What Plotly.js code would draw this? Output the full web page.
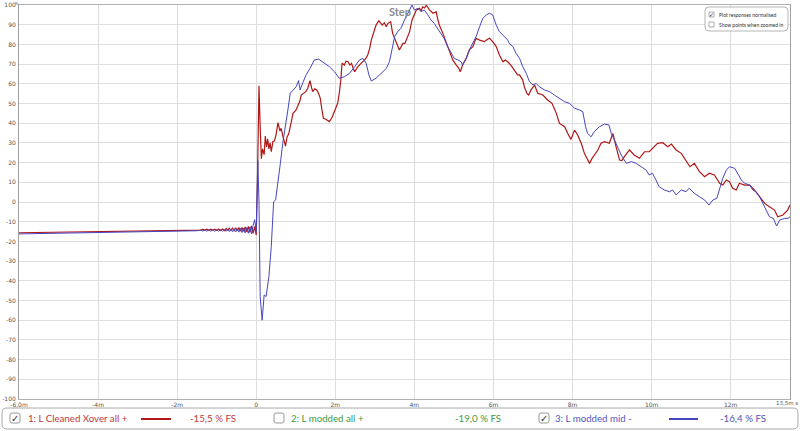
<!DOCTYPE html>
<html><head><meta charset="utf-8">
<script src="https://cdn.plot.ly/plotly-3.0.1.min.js"></script>
<style>body{margin:0;background:#fff}#c{width:800px;height:431px}</style>
</head><body><div id="c"></div>
<script>
// ---- data (time in ms, value in %) ----
const timeRed = [-6,-5,-4,-3,-2,-1.5,-1.4,-1.35,-1.3,-1.25,-1.2,-1.15,-1.1,-1.05,-1,-0.95,-0.9,-0.85,-0.8,-0.76,-0.72,-0.68,-0.64,-0.6,-0.56,-0.52,-0.48,-0.44,-0.4,-0.36,-0.32,-0.28,-0.24,-0.2,-0.16,-0.12,-0.08,-0.04,0,0.03,0.07,0.1,0.13,0.16,0.2,0.23,0.26,0.29,0.32,0.35,0.38,0.42,0.46,0.5,0.55,0.6,0.63,0.68,0.74,0.78,0.82,0.88,0.93,1,1.05,1.1,1.14,1.2,1.25,1.3,1.36,1.4,1.43,1.48,1.53,1.58,1.62,1.66,1.7,1.76,1.85,1.92,2,2.06,2.1,2.14,2.17,2.23,2.27,2.32,2.37,2.41,2.45,2.49,2.57,2.64,2.7,2.76,2.82,2.87,2.91,2.97,3.03,3.1,3.15,3.19,3.24,3.29,3.33,3.4,3.45,3.54,3.58,3.62,3.67,3.71,3.76,3.79,3.84,3.88,3.94,4,4.05,4.13,4.17,4.21,4.26,4.3,4.34,4.38,4.47,4.55,4.59,4.63,4.72,4.8,4.89,4.97,5.06,5.12,5.16,5.22,5.31,5.39,5.48,5.56,5.65,5.72,5.77,5.84,5.9,5.98,6.07,6.15,6.24,6.3,6.36,6.44,6.53,6.61,6.66,6.74,6.78,6.85,6.89,6.95,7.04,7.12,7.25,7.37,7.48,7.59,7.67,7.8,7.88,7.96,8.05,8.13,8.22,8.3,8.37,8.43,8.49,8.55,8.64,8.72,8.81,8.93,9.02,9.1,9.19,9.25,9.31,9.44,9.56,9.69,9.82,9.94,10.02,10.15,10.28,10.41,10.5,10.62,10.75,10.87,10.97,11.08,11.21,11.34,11.46,11.59,11.72,11.8,11.89,11.97,12.05,12.14,12.22,12.35,12.48,12.6,12.73,12.86,12.98,13.11,13.19,13.32,13.44,13.5];
const valRed = [-15.6,-15.3,-15.0,-14.7,-14.4,-14.2,-14.3,-13.9,-14.3,-13.85,-14.35,-13.85,-14.4,-13.8,-14.4,-13.75,-14.45,-13.7,-14.5,-13.4,-14.3,-13.3,-14.4,-13.2,-14.5,-13.1,-14.6,-13.0,-14.7,-12.9,-14.9,-12.7,-15.1,-12.4,-15.4,-12.1,-15.9,-12.5,-16.8,10,59,38,22,27,24,33.5,28,32,27,30,25.5,30.6,31,34,40.3,36,37.4,33,28.4,33,34.5,40,45,46.5,48.4,51,54.3,55,56,57.5,61.6,58,56,57.5,56.9,55,52.6,47,42.5,42,40.8,43,46.7,50.1,55.2,62,70.4,69.5,71.5,71.2,69.5,70.4,68,66.1,68.7,70,71.2,72.5,74.6,78,82.2,86,89.8,92,90.5,89.8,91,89,90.7,91.5,85.6,81.4,79,77.2,79,80.5,80.5,82.2,84,86.5,92.4,95,97.5,98.3,97,99.1,98.5,100,98.8,97.5,95.8,96.6,93,89.8,85.6,81.4,77.2,72.1,69.5,68,66.1,69.5,72.9,77.2,78.9,83.1,82.2,81.5,81.4,82.5,83.1,81.4,78.9,74.6,71.2,72.1,71.2,69.5,67,64.5,64.5,61.9,58.5,55,54.3,56.9,59.4,55.2,54.3,51.8,50.1,45,39.9,38.2,34.8,31.8,36.5,34,29.8,24.7,22,19.6,22,23.9,26.4,29.8,30.6,29.8,34.8,28.1,21.3,21,23,26.4,23.9,22.2,25.5,25.5,27.2,29.8,30.1,28.1,29.4,26.4,24.7,21.3,17.9,19.6,15.4,12.8,14.6,13.7,9.5,8.6,11.2,10.3,7,6.1,9.5,8.6,8.6,6.1,2.7,-0.7,-2.4,-4.1,-7.5,-6.6,-4.1,-1.5];

const timeBlue = [-6,-5,-4,-3,-2,-1.5,-1.4,-1.35,-1.3,-1.25,-1.2,-1.15,-1.1,-1.05,-1,-0.95,-0.9,-0.85,-0.8,-0.76,-0.72,-0.68,-0.64,-0.6,-0.56,-0.52,-0.48,-0.44,-0.4,-0.36,-0.32,-0.28,-0.24,-0.2,-0.16,-0.12,-0.08,-0.04,0,0.04,0.07,0.1,0.15,0.2,0.25,0.32,0.38,0.44,0.49,0.55,0.61,0.67,0.74,0.8,0.86,0.94,1.01,1.07,1.11,1.18,1.26,1.36,1.47,1.58,1.68,1.85,1.98,2.1,2.23,2.36,2.49,2.61,2.7,2.78,2.85,2.91,3.03,3.16,3.29,3.37,3.44,3.5,3.58,3.66,3.75,3.83,3.94,4,4.09,4.17,4.25,4.34,4.42,4.5,4.59,4.67,4.75,4.84,4.93,5.01,5.1,5.18,5.22,5.31,5.39,5.48,5.56,5.65,5.73,5.82,5.9,5.98,6.07,6.15,6.24,6.36,6.4,6.49,6.57,6.66,6.74,6.83,6.91,7,7.08,7.16,7.29,7.42,7.54,7.67,7.8,7.92,8.05,8.18,8.26,8.33,8.38,8.47,8.55,8.68,8.81,8.92,8.98,9.06,9.15,9.23,9.36,9.49,9.61,9.74,9.86,9.94,10.02,10.11,10.19,10.32,10.45,10.53,10.62,10.75,10.87,10.95,11.08,11.21,11.34,11.45,11.55,11.65,11.72,11.8,11.89,11.97,12.1,12.18,12.27,12.35,12.48,12.56,12.64,12.73,12.81,12.9,12.98,13.08,13.16,13.24,13.37,13.45,13.5];
const valBlue = [-16.2,-15.9,-15.6,-15.2,-14.9,-14.6,-14.25,-14.75,-14.2,-14.8,-14.2,-14.8,-14.15,-14.85,-14.15,-14.85,-14.1,-14.9,-14.05,-14.9,-13.8,-15.0,-13.7,-15.1,-13.6,-15.2,-13.5,-15.3,-13.4,-15.5,-13.2,-15.7,-13.0,-15.9,-12.6,-16.2,-12.0,-9,-15,21,0,-48,-60,-47.2,-48,-37.9,-22.7,0.2,1,9.5,19.6,29.8,38.2,46.7,55.2,56.9,58.5,61.6,56.9,60.6,64.5,67.8,72.1,72.5,71.2,68.7,66.1,62.8,63.6,65.3,68.7,72.1,72.9,70.4,64.5,61.4,62.8,65.3,67.8,71.2,78,83.9,86.5,88.2,92.4,95.8,100,97.5,98.3,96.6,97.5,95,92.4,90.7,88.2,85.6,83.1,78.9,75.5,72.9,72.1,71.2,69.5,72.9,77.2,80.5,83.9,89,93.2,95,95.8,95,89.8,86.5,84.8,82.2,80.5,78.9,75.5,72.9,68.7,65.3,61.1,59.4,60.2,58.5,56.9,56,54.3,52.6,50.9,50.1,47.6,46.7,45.8,38.2,34.8,33.1,35.7,38.2,39.6,39.1,34.8,31.5,27.2,23.9,19.6,20.5,19.6,17.9,16.2,13.7,14.6,11.2,7.8,6.1,5.2,6.1,3.6,6.1,5.2,7,4.4,2.7,1,-1.5,1,1.9,6.1,12,16.2,17.9,17.1,14.6,11.2,9.5,8.6,6.1,5.2,2.7,-0.7,-4.1,-7.5,-8.3,-12.2,-9.1,-8.3,-8.3,-7.5];

const xTickVals = [-6,-4,-2,0,2,4,6,8,10,12];
const xTickText = ['-6,0m','-4m','-2m','0','2m','4m','6m','8m','10m','12m'];
const xEndTick = 13.5, xEndText = '13,5m s';
const yTickVals = [-100,-90,-80,-70,-60,-50,-40,-30,-20,-10,0,10,20,30,40,50,60,70,80,90,100];
const yTickText = yTickVals.map(String);

const legendNames = ['1: L Cleaned Xover all +','2: L modded all +','3: L modded mid -'];
const legendLevels = ['-15,5 % FS','-19,0 % FS','-16,4 % FS'];
const legendChecked = [true,false,true];

// ---- layout helpers (pixel -> paper) ----
const L=19,R=790,T=5,B=399;
const px = x => (x-L)/(R-L);
const py = y => (B-y)/(B-T);
function rrect(x0,y0,x1,y1,r){
  const a=px(x0),b=px(x1),c=py(y0),d=py(y1);
  const rx=r/(R-L), ry=r/(B-T);
  return `M${a+rx},${c} L${b-rx},${c} Q${b},${c} ${b},${c-ry} L${b},${d+ry} Q${b},${d} ${b-rx},${d} L${a+rx},${d} Q${a},${d} ${a},${d+ry} L${a},${c-ry} Q${a},${c} ${a+rx},${c} Z`;
}

const RED='#b01818', BLUE='#4646c0';
const txtCol=['#c0393b','#3f9a3f','#5555b8'];

const shapes=[], ann=[];
shapes.push({type:'path',xref:'paper',yref:'paper',path:rrect(2,408,798,429,5),line:{color:'#a8a8a8',width:1},fillcolor:'rgba(0,0,0,0)',layer:'above'});
const cbX=[10,274,539];
const nameX=[26,289,553];
const lineX=[[141,171],null,[669,698]];
const lvlX=[188,453,718];
for(let i=0;i<3;i++){
  shapes.push({type:'path',xref:'paper',yref:'paper',path:rrect(cbX[i],413,cbX[i]+10,423,2),line:{color:'#999',width:1},fillcolor:'#fff',layer:'above'});
  if(legendChecked[i]) ann.push({xref:'paper',yref:'paper',x:px(cbX[i]+5),y:py(418),text:'✓',showarrow:false,font:{family:'DejaVu Sans',size:10,color:'#333'},xanchor:'center',yanchor:'middle'});
  ann.push({xref:'paper',yref:'paper',x:px(nameX[i]),y:py(418.5),text:legendNames[i],showarrow:false,font:{family:'Lato',size:9.7,color:txtCol[i]},xanchor:'left',yanchor:'middle'});
  ann.push({xref:'paper',yref:'paper',x:px(lvlX[i]),y:py(418.5),text:legendLevels[i],showarrow:false,font:{family:'Lato',size:9.7,color:txtCol[i]},xanchor:'left',yanchor:'middle'});
  if(lineX[i]) shapes.push({type:'line',xref:'paper',yref:'paper',x0:px(lineX[i][0]),x1:px(lineX[i][1]),y0:py(419),y1:py(419),line:{color:i===0?RED:BLUE,width:2},layer:'above'});
}
shapes.push({type:'path',xref:'paper',yref:'paper',path:rrect(705,7,788,31,4),line:{color:'#b5b5b5',width:1},fillcolor:'rgba(255,255,255,0.9)',layer:'above'});
shapes.push({type:'rect',xref:'paper',yref:'paper',x0:px(709),x1:px(714),y0:py(12),y1:py(17),line:{color:'#999',width:0.8},fillcolor:'#fff',layer:'above'});
shapes.push({type:'rect',xref:'paper',yref:'paper',x0:px(709),x1:px(714),y0:py(22),y1:py(27),line:{color:'#999',width:0.8},fillcolor:'#fff',layer:'above'});
ann.push({xref:'paper',yref:'paper',x:px(711.5),y:py(14.3),text:'✓',showarrow:false,font:{family:'DejaVu Sans',size:6,color:'#333'},xanchor:'center',yanchor:'middle'});
ann.push({xref:'paper',yref:'paper',x:px(717),y:py(14.5),text:'Plot responses normalised',showarrow:false,font:{family:'Lato',size:5,color:'#333'},xanchor:'left',yanchor:'middle'});
ann.push({xref:'paper',yref:'paper',x:px(717),y:py(24.5),text:'Show points when zoomed in',showarrow:false,font:{family:'Lato',size:5,color:'#333'},xanchor:'left',yanchor:'middle'});
ann.push({xref:'paper',yref:'paper',x:px(400),y:py(11),text:'<b>Step</b>',showarrow:false,font:{family:'Lato',size:11,color:'#8a8a8a'},xanchor:'center',yanchor:'middle'});
ann.push({xref:'paper',yref:'paper',x:px(17),y:py(0),text:'%',showarrow:false,font:{family:'DejaVu Sans',size:4,color:'#555'},xanchor:'center',yanchor:'top',borderpad:0});
ann.push({xref:'x',yref:'paper',x:xEndTick,y:py(402.5),xshift:9,text:xEndText,showarrow:false,font:{family:'DejaVu Sans',size:5.5,color:'#555'},xanchor:'right',yanchor:'middle',borderpad:0});

const traces=[
  {x:timeRed,y:valRed,type:'scatter',mode:'lines',line:{color:RED,width:1.2},name:legendNames[0],hoverinfo:'skip'},
  {x:timeBlue,y:valBlue,type:'scatter',mode:'lines',line:{color:BLUE,width:1},name:legendNames[2],hoverinfo:'skip'}
];
const layout={
  width:800,height:431,margin:{l:L,r:800-R,t:T,b:431-B},
  paper_bgcolor:'#fff',plot_bgcolor:'#fff',showlegend:false,
  xaxis:{range:[-6,13.5],tickvals:xTickVals,ticktext:xTickText,showgrid:true,gridcolor:'#dedede',gridwidth:1,zeroline:false,
    showline:true,mirror:true,linecolor:'#b0b0b0',linewidth:1,ticks:'',tickfont:{family:'DejaVu Sans',size:6,color:'#555'},automargin:false,fixedrange:true},
  yaxis:{range:[-100,100],tickvals:yTickVals,ticktext:yTickText,showgrid:true,gridcolor:'#dedede',gridwidth:1,zeroline:false,
    showline:true,mirror:true,linecolor:'#a0a0a0',linewidth:1,ticks:'',ticklabelstandoff:1,tickfont:{family:'DejaVu Sans',size:6,color:'#555'},automargin:false,fixedrange:true},
  shapes:shapes,annotations:ann
};
Plotly.newPlot('c',traces,layout,{displayModeBar:false,staticPlot:true});
</script></body></html>
